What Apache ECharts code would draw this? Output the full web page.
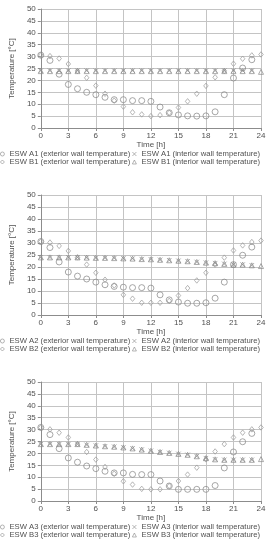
<!DOCTYPE html>
<html>
<head>
<meta charset="utf-8">
<script src="https://cdn.jsdelivr.net/npm/echarts@6/dist/echarts.min.js"></script>
<style>html,body{margin:0;padding:0;background:#fff}#c{width:270px;height:550px}</style>
</head>
<body>
<div id="c"></div>
<script>
// ---- data ----
const hoursA = [0,1,2,3,4,5,6,7,8,9,10,11,12,13,14,15,16,17,18,19,20,21,22,23];
const hoursB = [0,1,2,3,4,5,6,7,8,9,10,11,12,13,14,15,16,17,18,19,20,21,22,23,24];
const xTicks = [0,3,6,9,12,15,18,21,24];

const a1Ext = [30.6,28.4,22.6,18.3,16.5,15.0,14.0,12.9,11.9,11.9,11.5,11.5,11.2,8.8,6.4,5.5,5.1,5.0,5.1,6.8,14.0,21.0,25.2,28.7];
const a1Int = [24.1,24.1,24.1,24.1,24.1,24.1,24.1,24.1,24.1,24.1,24.1,24.1,24.1,24.1,24.1,24.1,24.1,24.1,24.1,24.1,24.1,24.1,24.1,24.1];
const b1Ext = [30.6,30.2,29.2,26.9,24.0,21.1,17.8,14.4,11.5,9.0,6.6,5.7,5.0,5.4,6.4,8.6,11.2,14.4,17.7,21.3,24.0,27.0,29.1,30.5,30.9];
const b1Int = [23.9,23.9,23.9,23.9,23.9,23.9,23.9,23.9,23.9,23.9,23.9,23.9,23.9,23.9,23.9,23.9,23.9,23.9,23.9,23.9,23.9,23.9,23.9,23.9,23.6];

const a2Ext = [30.6,28.1,22.1,17.9,16.2,15.0,13.7,12.6,11.9,11.6,11.4,11.4,11.2,8.4,6.3,5.4,4.9,4.9,5.1,7.0,13.7,21.0,24.9,28.3];
const a2Int = [24.0,24.0,24.0,24.0,24.0,23.9,23.8,23.8,23.7,23.6,23.5,23.3,23.2,23.0,22.8,22.6,22.4,22.1,21.8,21.6,21.3,21.0,21.0,20.7];
const b2Ext = [30.6,30.2,28.8,26.7,24.0,21.0,17.6,14.7,12.3,8.4,6.8,5.1,5.1,5.1,5.9,8.1,11.2,14.4,17.6,21.0,23.9,26.9,29.0,30.4,31.0];
const b2Int = [24.0,24.0,24.0,24.0,24.0,23.9,23.8,23.8,23.7,23.6,23.5,23.3,23.2,23.0,22.8,22.6,22.4,22.1,21.8,21.6,21.3,21.0,21.0,20.7,20.4];

const a3Ext = [30.9,27.9,22.0,18.1,16.3,14.7,13.6,12.5,11.8,11.8,11.2,11.1,11.1,8.4,6.3,4.9,4.9,4.9,4.9,6.5,13.9,20.6,24.9,28.4];
const a3Int = [23.9,23.9,23.9,23.9,23.9,23.6,23.3,23.0,22.8,22.5,22.1,21.6,21.1,20.6,20.2,19.8,19.4,18.8,18.0,17.5,17.3,17.3,17.3,17.3];
const b3Ext = [30.9,30.1,28.7,26.7,23.9,20.6,17.4,14.3,11.5,8.3,6.9,5.1,4.9,4.9,6.3,8.4,11.1,14.0,17.5,20.8,23.9,26.7,28.7,30.1,30.9];
const b3Int = [23.9,23.9,23.9,23.9,23.9,23.6,23.3,23.0,22.8,22.5,22.1,21.6,21.1,20.6,20.2,19.8,19.4,18.8,18.0,17.5,17.3,17.3,17.3,17.3,17.6];

const panels = [
  {id:'1', aExt:a1Ext, aInt:a1Int, bExt:b1Ext, bInt:b1Int},
  {id:'2', aExt:a2Ext, aInt:a2Int, bExt:b2Ext, bInt:b2Int},
  {id:'3', aExt:a3Ext, aInt:a3Int, bExt:b3Ext, bInt:b3Int}
];

// ---- layout / style ----
const FONT = 'Liberation Sans, Arial, sans-serif';
const gridTops = [9, 195, 382];
const gridH = [119, 120, 119];
const txt = '#505050';
const pair = (xs, ys) => ys.map((v, i) => [xs[i], v]);
const hollow = (c) => ({color:'rgba(255,255,255,0)', borderColor:c, borderWidth:0.9});
const XSYM = 'path://M0,0L10,10M10,0L0,10';

const grids = [], xAxes = [], yAxes = [], series = [], legends = [];
panels.forEach((p, k) => {
  grids.push({left:32, right:9, top:gridTops[k], height:gridH[k], containLabel:false});
  xAxes.push({
    type:'value', gridIndex:k, min:0, max:24, interval:3,
    name:'Time [h]', nameLocation:'middle', nameGap:13,
    nameTextStyle:{fontSize:8, color:txt, fontFamily:FONT},
    axisLine:{show:true, lineStyle:{color:'#8c8c8c', width:1}},
    axisTick:{show:true, length:3, lineStyle:{color:'#8c8c8c'}},
    axisLabel:{fontSize:8, color:txt, fontFamily:FONT, margin:4},
    splitLine:{show:true, lineStyle:{color:'#c4c4c4', width:1}}
  });
  yAxes.push({
    type:'value', gridIndex:k, min:0, max:50, interval:5,
    name:'Temperature [°C]', nameLocation:'middle', nameGap:17, nameRotate:90,
    nameTextStyle:{fontSize:8, color:txt, fontFamily:FONT},
    axisLine:{show:true, lineStyle:{color:'#8c8c8c', width:1}},
    axisTick:{show:true, length:3, lineStyle:{color:'#8c8c8c'}},
    axisLabel:{fontSize:8, color:txt, fontFamily:FONT, margin:5},
    splitLine:{show:true, lineStyle:{color:'#c4c4c4', width:1}}
  });
  const nAE = 'ESW A' + p.id + ' (exterior wall temperature)';
  const nAI = 'ESW A' + p.id + ' (interior wall temperature)';
  const nBE = 'ESW B' + p.id + ' (exterior wall temperature)';
  const nBI = 'ESW B' + p.id + ' (interior wall temperature)';
  series.push(
    {name:nAE, type:'scatter', xAxisIndex:k, yAxisIndex:k, symbol:'circle', symbolSize:6,
     itemStyle:hollow('#858585'), data:pair(hoursA, p.aExt)},
    {name:nBE, type:'scatter', xAxisIndex:k, yAxisIndex:k, symbol:'diamond', symbolSize:[4.5,5.5],
     itemStyle:hollow('#9a9a9a'), data:pair(hoursB, p.bExt)},
    {name:nAI, type:'scatter', xAxisIndex:k, yAxisIndex:k, symbol:XSYM, symbolSize:4.5,
     itemStyle:hollow('#8a8a8a'), data:pair(hoursA, p.aInt)},
    {name:nBI, type:'scatter', xAxisIndex:k, yAxisIndex:k, symbol:'triangle', symbolSize:5,
     itemStyle:hollow('#8a8a8a'), data:pair(hoursB, p.bInt)}
  );
  const bottom = gridTops[k] + gridH[k];
  [[nAE, 0, 0, 'circle'], [nAI, 132, 0, XSYM], [nBE, 0, 1, 'diamond'], [nBI, 132, 1, 'triangle']].forEach(([n, l, r, ic]) => {
    legends.push({
      data:[{name:n, icon:ic, itemStyle:{color:'rgba(255,255,255,0)', borderColor:'#8a8a8a', borderWidth:0.8}}],
      left:l, top:bottom + (r ? 35 : 27) - 5, padding:0,
      itemWidth:4, itemHeight:4, itemGap:0, selectedMode:false,
      textStyle:{fontSize:7.7, color:txt, fontFamily:FONT}
    });
  });
});

const chart = echarts.init(document.getElementById('c'), null, {renderer:'canvas'});
chart.setOption({
  animation:false,
  backgroundColor:'#ffffff',
  grid:grids, xAxis:xAxes, yAxis:yAxes, series:series, legend:legends
});
</script>
</body>
</html>
